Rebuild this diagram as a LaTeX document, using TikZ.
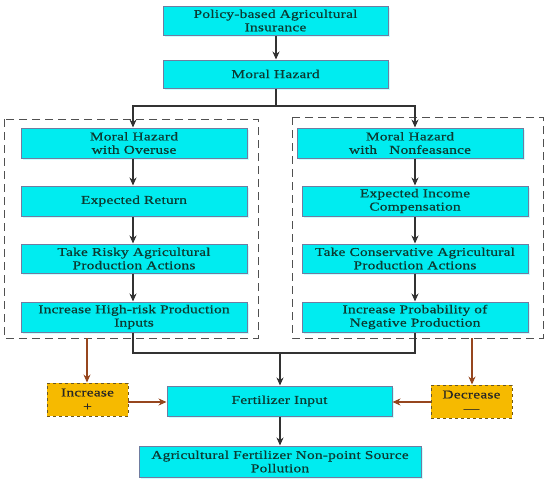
\documentclass[tikz,border=0pt]{standalone}
\usepackage{fontspec}
\setmainfont{Liberation Serif}[FakeStretch=1.28, LetterSpace=2, FakeBold=0.6]
\usetikzlibrary{arrows.meta,shadows}
\definecolor{boxfill}{RGB}{0,236,240}
\definecolor{boxline}{RGB}{112,124,160}
\definecolor{boxshade}{RGB}{200,255,255}
\definecolor{txt}{RGB}{12,58,50}
\definecolor{orangefill}{RGB}{246,186,0}
\definecolor{orangeline}{RGB}{110,88,30}
\definecolor{brownarrow}{RGB}{150,70,30}
\definecolor{darkarrow}{RGB}{50,50,50}
\definecolor{dashgray}{RGB}{80,80,80}
\begin{document}
\begin{tikzpicture}[x=1pt,y=-1pt,
  box/.style={draw=boxline, line width=1pt, fill=boxfill, text=txt,
    font=\fontsize{12}{13.3}\selectfont, align=center, inner sep=0pt,
    drop shadow={fill=boxshade, shadow xshift=2pt, shadow yshift=-2pt, opacity=1}},
  sign/.style={draw=orangeline, dashed, line width=0.9pt, fill=orangefill, text=black!85,
    font=\fontsize{12}{14}\selectfont, align=center, inner sep=0pt,
    minimum width=81pt, minimum height=33pt},
  region/.style={draw=dashgray, line width=0.9pt, dash pattern=on 8pt off 5pt},
  link/.style={draw=darkarrow, line width=1.1pt},
  arr/.style={link, -{Stealth[length=8pt,width=7pt]}},
  barr/.style={draw=brownarrow, line width=1.1pt, -{Stealth[length=8pt,width=7pt]}}
]
\useasboundingbox (0,0) rectangle (550,479);
% dashed regions
\draw[region] (4,119) rectangle (258,338);
\draw[region] (292,117) rectangle (543,338);
\coordinate (lreg) at (87,338);
\coordinate (rreg) at (472,338);

\node[box, minimum width=225pt, minimum height=29pt] (top) at (275.5,20.5) {Policy-based Agricultural\\Insurance};
\node[box, minimum width=225pt, minimum height=28pt] (mh) at (275.5,74) {Moral Hazard};

\node[box, minimum width=226pt, minimum height=30pt] (l1) at (134,143) {Moral Hazard\\with Overuse};
\node[box, minimum width=226pt, minimum height=30pt] (l2) at (134,201) {Expected Return};
\node[box, minimum width=226pt, minimum height=29pt] (l3) at (134,258.5) {Take Risky Agricultural\\Production Actions};
\node[box, minimum width=226pt, minimum height=30pt] (l4) at (134,317) {Increase High-risk Production\\Inputs};

\node[box, minimum width=226pt, minimum height=30pt] (r1) at (410,143) {Moral Hazard\\with\ \ \ Nonfeasance};
\node[box, minimum width=226pt, minimum height=30pt] (r2) at (415,201) {Expected Income\\Compensation};
\node[box, minimum width=226pt, minimum height=29pt] (r3) at (415,258.5) {Take Conservative Agricultural\\Production Actions};
\node[box, minimum width=226pt, minimum height=30pt] (r4) at (415,317) {Increase Probability of\\Negative Production};

\node[box, minimum width=225pt, minimum height=30pt] (fert) at (279.5,401) {Fertilizer Input};
\node[box, minimum width=282pt, minimum height=31pt] (pol) at (280,461.5) {Agricultural Fertilizer Non-point Source\\Pollution};

\node[sign] (inc) at (87.5,399.5) {Increase\\+};
\node[sign] (dec) at (471.5,401.5) {Decrease\\—};

% top connectors
\draw[arr] (top.south -| 276,0) -- (mh.north -| 276,0);
\coordinate (split) at (276,106);
\draw[link] (mh.south -| split) -- (split);
\draw[arr] (split) -| (l1.north -| 133,0);
\draw[arr] (split) -| (r1.north -| 415,0);

% left column
\draw[arr] (l1.south -| 133,0) -- (l2.north -| 133,0);
\draw[arr] (l2.south -| 133,0) -- (l3.north -| 133,0);
\draw[arr] (l3.south -| 133,0) -- (l4.north -| 133,0);
% right column
\draw[arr] (r1.south -| 415,0) -- (r2.north -| 415,0);
\draw[arr] (r2.south -| 415,0) -- (r3.north -| 415,0);
\draw[arr] (r3.south -| 415,0) -- (r4.north -| 415,0);

% merge
\coordinate (merge) at (280,353);
\draw[link] (l4.south -| 133,0) |- (merge);
\draw[link] (r4.south -| 415,0) |- (merge);
\draw[arr] (merge) -- (fert.north -| merge);
\draw[arr] (fert.south -| merge) -- (pol.north -| merge);

% brown arrows
\draw[barr] (lreg) -- (inc.north -| lreg);
\draw[barr] (rreg) -- (dec.north -| rreg);
\draw[barr] (inc.east |- 0,402) -- (fert.west |- 0,402);
\draw[barr] (dec.west |- 0,402) -- (fert.east |- 0,402);
\end{tikzpicture}
\end{document}
